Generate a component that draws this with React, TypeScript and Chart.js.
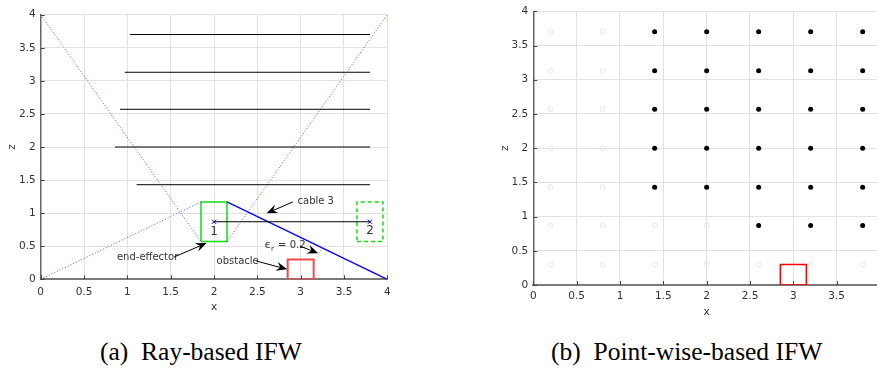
import React, { useEffect, useRef } from 'react';
import { Chart, registerables } from 'chart.js';
Chart.register(...registerables);

// ---------- Panel (a): ray-based IFW ----------
const rayZ = [3.7, 3.13, 2.57, 2.0, 1.43, 0.87];
const rayStartX = [1.03, 0.97, 0.915, 0.857, 1.107, 2.0];
const rayEndX = [3.8, 3.8, 3.8, 3.8, 3.8, 3.8];

// dotted cables (from -> to)
const cableFromX = [0, 0, 2.15];
const cableFromZ = [0, 4, 0.57];
const cableToX = [1.85, 1.85, 4];
const cableToZ = [1.17, 0.57, 4];
// cable 3 (solid)
const cable3X = [2.15, 4];
const cable3Z = [1.17, 0];

// end-effector positions 1 and 2
const poseX = [2.0, 3.8];
const poseZ = [0.87, 0.87];
const poseLabel = ['1', '2'];
const poseLabelZ = [0.71, 0.73];
const effectorW = 0.3;
const effectorH = 0.6;

// obstacle
const obstacleX = [2.85, 3.15];
const obstacleZ = [0, 0.3];

// epsilon clearance indicator
const epsLineX = [3.2, 3.24];
const epsLineZ = [0.344, 0.471];

// annotations
const noteText = ['cable 3', 'end-effector', 'obstacle'];
const noteX = [2.964, 0.88, 2.03];
const noteZ = [1.178, 0.337, 0.276];
const epsNoteX = 2.587;
const epsNoteZ = 0.518;
const arrowFromX = [2.91, 1.54, 2.49, 2.99];
const arrowFromZ = [1.17, 0.337, 0.276, 0.503];
const arrowToX = [2.607, 1.915, 2.845, 3.202];
const arrowToZ = [0.997, 0.548, 0.151, 0.393];

// ---------- Panel (b): point-wise IFW ----------
const gridX = [0.2, 0.8, 1.4, 2.0, 2.6, 3.2, 3.8];
const gridZ = [0.3, 0.87, 1.43, 2.0, 2.57, 3.13, 3.7];
const feasibleZByColumn = [
  [],
  [],
  [1.43, 2.0, 2.57, 3.13, 3.7],
  [1.43, 2.0, 2.57, 3.13, 3.7],
  [0.87, 1.43, 2.0, 2.57, 3.13, 3.7],
  [0.87, 1.43, 2.0, 2.57, 3.13, 3.7],
  [0.87, 1.43, 2.0, 2.57, 3.13, 3.7],
];

const axisTicks = [0, 0.5, 1, 1.5, 2, 2.5, 3, 3.5, 4];
const axisTickLabels = ['0', '0.5', '1', '1.5', '2', '2.5', '3', '3.5', '4'];

const FONT = 'DejaVu Sans';
const TXT = '#333333';

function rectPts(x0: number, x1: number, z0: number, z1: number) {
  return [
    { x: x0, y: z0 }, { x: x1, y: z0 }, { x: x1, y: z1 }, { x: x0, y: z1 }, { x: x0, y: z0 },
  ];
}

const inwardTicks = {
  id: 'inwardTicks',
  afterDatasetsDraw(chart: any) {
    const { ctx, chartArea, scales } = chart;
    const xs = scales.x, ys = scales.y;
    ctx.save();
    ctx.strokeStyle = '#444';
    ctx.lineWidth = 1;
    xs.ticks.forEach((t: any) => {
      const px = Math.round(xs.getPixelForValue(t.value)) + 0.5;
      ctx.beginPath();
      ctx.moveTo(px, chartArea.bottom);
      ctx.lineTo(px, chartArea.bottom - 4);
      ctx.stroke();
    });
    ys.ticks.forEach((t: any) => {
      const py = Math.round(ys.getPixelForValue(t.value)) + 0.5;
      ctx.beginPath();
      ctx.moveTo(chartArea.left, py);
      ctx.lineTo(chartArea.left + 4, py);
      ctx.stroke();
    });
    ctx.restore();
  },
};

function drawArrow(ctx: CanvasRenderingContext2D, x1: number, y1: number, x2: number, y2: number) {
  const a = Math.atan2(y2 - y1, x2 - x1);
  const c = Math.cos(a), s = Math.sin(a);
  const L = 11, W = 4.5;
  ctx.beginPath();
  ctx.moveTo(x1, y1);
  ctx.lineTo(x2 - L * 0.6 * c, y2 - L * 0.6 * s);
  ctx.stroke();
  const bx = x2 - L * c, by = y2 - L * s;
  ctx.beginPath();
  ctx.moveTo(x2, y2);
  ctx.lineTo(bx - s * W, by + c * W);
  ctx.lineTo(x2 - L * 0.65 * c, y2 - L * 0.65 * s);
  ctx.lineTo(bx + s * W, by - c * W);
  ctx.closePath();
  ctx.fill();
}

const annotationsA = {
  id: 'annotationsA',
  afterDatasetsDraw(chart: any) {
    const { ctx, scales } = chart;
    const X = (v: number) => scales.x.getPixelForValue(v);
    const Y = (v: number) => scales.y.getPixelForValue(v);
    ctx.save();
    ctx.fillStyle = TXT;
    ctx.font = `10px "${FONT}"`;
    ctx.textBaseline = 'middle';
    ctx.textAlign = 'left';
    noteText.forEach((t, i) => ctx.fillText(t, X(noteX[i]), Y(noteZ[i])));
    // epsilon_r = 0.2
    let ex = X(epsNoteX);
    const ey = Y(epsNoteZ);
    ctx.fillText('\u03F5', ex, ey);
    ex += ctx.measureText('\u03F5').width;
    ctx.font = `7px "${FONT}"`;
    ctx.fillText('r', ex, ey + 4);
    ex += ctx.measureText('r').width + 1;
    ctx.font = `10px "${FONT}"`;
    ctx.fillText(' = 0.2', ex, ey);
    // pose labels
    ctx.font = `12px "${FONT}"`;
    ctx.textAlign = 'center';
    poseLabel.forEach((t, i) => ctx.fillText(t, X(poseX[i]), Y(poseLabelZ[i])));
    // arrows
    ctx.strokeStyle = '#000';
    ctx.fillStyle = '#000';
    ctx.lineWidth = 1;
    arrowFromX.forEach((_, i) =>
      drawArrow(ctx, X(arrowFromX[i]), Y(arrowFromZ[i]), X(arrowToX[i]), Y(arrowToZ[i]))
    );
    ctx.restore();
  },
};

function baseScales(o: {
  yWidth: number; xHeight: number; xTickPad: number; yTickPad: number; xTitlePad: number; yTitlePad: number;
}) {
  const font = { family: FONT, size: 10.5 };
  const fmt = (v: any) => {
    const i = axisTicks.indexOf(Number(v));
    return i >= 0 ? axisTickLabels[i] : String(v);
  };
  return {
    x: {
      type: 'linear',
      min: 0,
      max: 4,
      afterBuildTicks: (s: any) => { s.ticks = axisTicks.map((v) => ({ value: v })); },
      ticks: { padding: o.xTickPad, color: TXT, font, maxRotation: 0, autoSkip: false, callback: fmt },
      grid: { color: '#e2e2e2', drawTicks: false, lineWidth: 1 },
      border: { color: '#7a7a7a', width: 2 },
      title: { display: true, text: 'x', color: TXT, font, padding: { top: 0, bottom: o.xTitlePad } },
      afterFit: (s: any) => { s.height = o.xHeight; },
    },
    y: {
      type: 'linear',
      min: 0,
      max: 4,
      afterBuildTicks: (s: any) => { s.ticks = axisTicks.map((v) => ({ value: v })); },
      ticks: { padding: o.yTickPad, color: TXT, font, autoSkip: false, callback: fmt },
      grid: { color: '#e2e2e2', drawTicks: false, lineWidth: 1 },
      border: { color: '#666', width: 1.5 },
      title: { display: true, text: 'z', color: TXT, font, padding: { top: o.yTitlePad, bottom: 0 } },
      afterFit: (s: any) => { s.width = o.yWidth; },
    },
  };
}

function lineDs(data: any[], color: string, width: number, dash: number[] = []) {
  return {
    data,
    showLine: true,
    borderColor: color,
    borderWidth: width,
    borderDash: dash,
    pointRadius: 0,
    tension: 0,
    fill: false,
  };
}

export default function App() {
  const refA = useRef<HTMLCanvasElement>(null);
  const refB = useRef<HTMLCanvasElement>(null);

  useEffect(() => {
    const datasetsA: any[] = [];
    rayZ.forEach((z, i) => {
      datasetsA.push(lineDs([{ x: rayStartX[i], y: z }, { x: rayEndX[i], y: z }], '#000', 1));
    });
    cableFromX.forEach((_, i) => {
      datasetsA.push(
        lineDs(
          [{ x: cableFromX[i], y: cableFromZ[i] }, { x: cableToX[i], y: cableToZ[i] }],
          'rgba(40,40,255,0.8)', 1, [1, 2]
        )
      );
    });
    datasetsA.push(lineDs(cable3X.map((x, i) => ({ x, y: cable3Z[i] })), '#0000ff', 1.3));
    datasetsA.push(
      lineDs(rectPts(poseX[0] - effectorW / 2, poseX[0] + effectorW / 2, poseZ[0] - effectorH / 2, poseZ[0] + effectorH / 2), '#11dd11', 1.5)
    );
    datasetsA.push(
      lineDs(rectPts(poseX[1] - effectorW / 2, poseX[1] + effectorW / 2, poseZ[1] - effectorH / 2, poseZ[1] + effectorH / 2), '#11dd11', 1.5, [4, 3])
    );
    datasetsA.push(lineDs(rectPts(obstacleX[0], obstacleX[1], obstacleZ[0], obstacleZ[1]), '#f04a4a', 2));
    datasetsA.push(lineDs(epsLineX.map((x, i) => ({ x, y: epsLineZ[i] })), '#999', 1, [1, 1]));
    datasetsA.push({
      data: poseX.map((x, i) => ({ x, y: poseZ[i] })),
      pointStyle: 'crossRot',
      pointRadius: 3,
      borderColor: '#0000ff',
      borderWidth: 1,
      showLine: false,
    });

    const chartA = new Chart(refA.current!, {
      type: 'scatter',
      data: { datasets: datasetsA },
      options: {
        animation: false,
        responsive: false,
        layout: { padding: { left: 0, top: 14.7, right: 52.7, bottom: 0 } },
        plugins: { legend: { display: false }, tooltip: { enabled: false } },
        scales: baseScales({ yWidth: 40.7, xHeight: 50.7, xTickPad: 6.5, yTickPad: 5, xTitlePad: 16, yTitlePad: 6 }) as any,
      },
      plugins: [inwardTicks, annotationsA],
    });

    const feasible: any[] = [];
    const infeasible: any[] = [];
    gridX.forEach((x, i) => {
      gridZ.forEach((z) => {
        if (feasibleZByColumn[i].includes(z)) feasible.push({ x, y: z });
        else infeasible.push({ x, y: z });
      });
    });

    const chartB = new Chart(refB.current!, {
      type: 'scatter',
      data: {
        datasets: [
          lineDs(rectPts(obstacleX[0], obstacleX[1], obstacleZ[0], obstacleZ[1]), '#ff0000', 1.5),
          {
            data: feasible,
            pointRadius: 2.5,
            backgroundColor: '#000',
            borderColor: '#000',
            borderWidth: 0,
            showLine: false,
          },
          {
            data: infeasible,
            pointRadius: 2.5,
            backgroundColor: 'rgba(0,0,0,0)',
            borderColor: '#e6e6e6',
            borderWidth: 1,
            showLine: false,
          },
        ],
      },
      options: {
        animation: false,
        responsive: false,
        layout: { padding: { left: 0, top: 11, right: 20, bottom: 0 } },
        plugins: { legend: { display: false }, tooltip: { enabled: false } },
        scales: baseScales({ yWidth: 93.3, xHeight: 45, xTickPad: 5, yTickPad: 5, xTitlePad: 11.3, yTitlePad: 59 }) as any,
      },
      plugins: [inwardTicks],
    });

    return () => {
      chartA.destroy();
      chartB.destroy();
    };
  }, []);

  const caption: React.CSSProperties = {
    position: 'absolute',
    top: 339,
    fontFamily: '"Liberation Serif", "DejaVu Serif", serif',
    fontSize: 25.5,
    lineHeight: 1,
    whiteSpace: 'pre',
    color: '#000',
  };

  return (
    <div style={{ position: 'absolute', left: 0, top: 0, width: 877, height: 370, overflow: 'hidden', background: '#fff' }}>
      <canvas ref={refA} width={440} height={330} style={{ position: 'absolute', left: 0, top: 0, width: 440, height: 330 }} />
      <canvas ref={refB} width={460} height={330} style={{ position: 'absolute', left: 440, top: 0, width: 460, height: 330 }} />
      <div style={{ ...caption, left: 100 }}>{'(a)  Ray-based IFW'}</div>
      <div style={{ ...caption, left: 551 }}>{'(b)  Point-wise-based IFW'}</div>
    </div>
  );
}
